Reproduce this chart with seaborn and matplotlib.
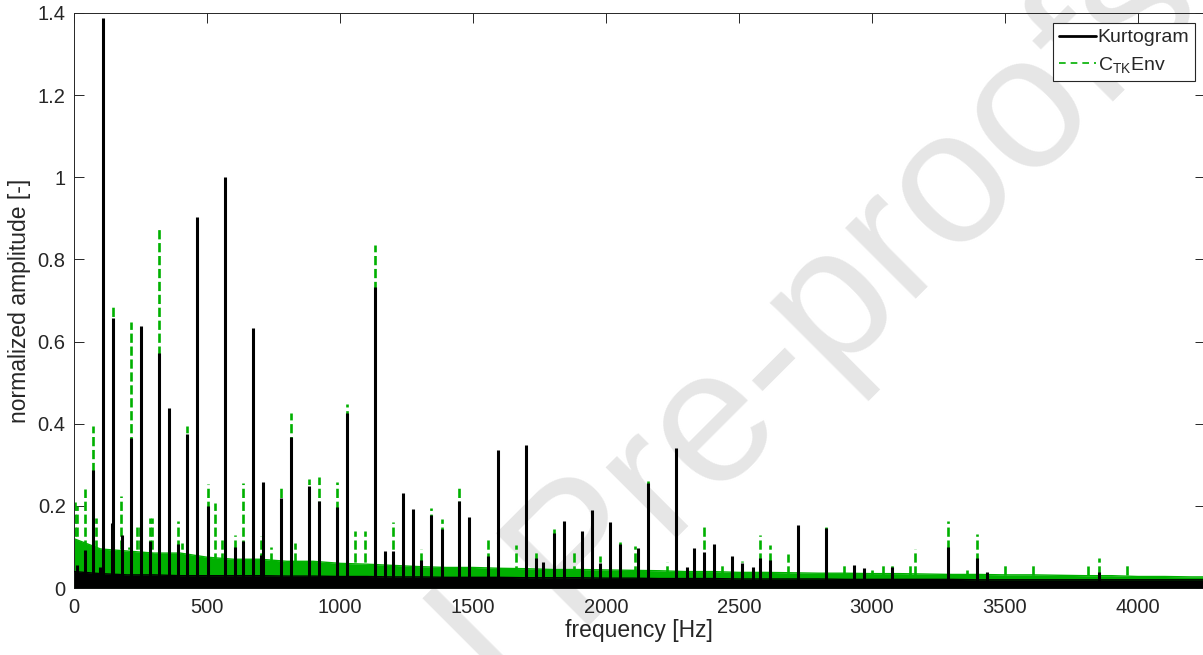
import numpy as np
import pandas as pd
import matplotlib
matplotlib.use("Agg")
import matplotlib.pyplot as plt
from matplotlib.lines import Line2D
import seaborn as sns

# ---------------- data ----------------
kurt_peak_freq = [12, 41, 73, 98, 110, 141, 148, 179, 215, 253, 286, 321, 358, 392, 426, 464,
                  502, 569, 605, 635, 674, 702, 712, 779, 817, 885, 922, 990, 1028, 1133,
                  1170, 1200, 1238, 1276, 1306, 1343, 1382, 1449, 1486, 1555, 1593, 1698,
                  1737, 1764, 1803, 1842, 1908, 1948, 1976, 2015, 2052, 2119, 2158, 2263,
                  2303, 2331, 2368, 2407, 2475, 2512, 2551, 2580, 2617, 2723, 2828, 2933,
                  2971, 3077, 3287, 3393, 3431, 3852]
kurt_peak_amp = [0.056, 0.092, 0.288, 0.05, 1.387, 0.158, 0.657, 0.128, 0.366, 0.638, 0.114,
                 0.573, 0.438, 0.107, 0.376, 0.903, 0.199, 1.0, 0.10, 0.115, 0.632, 0.08,
                 0.258, 0.218, 0.368, 0.249, 0.213, 0.197, 0.427, 0.734, 0.09, 0.09, 0.232,
                 0.192, 0.068, 0.177, 0.143, 0.211, 0.172, 0.077, 0.335, 0.347, 0.073, 0.063,
                 0.133, 0.162, 0.138, 0.19, 0.061, 0.16, 0.107, 0.097, 0.256, 0.342, 0.05,
                 0.098, 0.087, 0.107, 0.078, 0.062, 0.05, 0.073, 0.068, 0.154, 0.145, 0.056,
                 0.049, 0.05, 0.099, 0.074, 0.04, 0.04]

ctk_peak_freq = [5, 12, 43, 73, 83, 148, 177, 205, 215, 235, 248, 286, 292, 321, 392, 405,
                 426, 502, 530, 555, 605, 635, 702, 740, 779, 817, 830, 885, 922, 990, 1028,
                 1055, 1094, 1133, 1200, 1306, 1343, 1382, 1449, 1555, 1660, 1737, 1803,
                 1881, 1976, 2052, 2109, 2158, 2228, 2368, 2435, 2512, 2580, 2617, 2685,
                 2828, 2894, 3001, 3040, 3077, 3143, 3163, 3287, 3356, 3393, 3500, 3604,
                 3813, 3852, 3957]
ctk_peak_amp = [0.21, 0.20, 0.24, 0.394, 0.17, 0.69, 0.225, 0.10, 0.648, 0.15, 0.15, 0.17,
                0.17, 0.878, 0.164, 0.11, 0.394, 0.254, 0.207, 0.12, 0.13, 0.255, 0.127,
                0.10, 0.244, 0.427, 0.11, 0.265, 0.27, 0.258, 0.449, 0.14, 0.14, 0.836,
                0.16, 0.096, 0.195, 0.167, 0.252, 0.12, 0.104, 0.088, 0.143, 0.088, 0.078,
                0.111, 0.102, 0.26, 0.063, 0.149, 0.062, 0.066, 0.128, 0.105, 0.082, 0.151,
                0.061, 0.044, 0.055, 0.06, 0.057, 0.096, 0.164, 0.044, 0.131, 0.055, 0.06,
                0.053, 0.072, 0.059]

floor_freq = [0, 100, 200, 300, 400, 500, 600, 700, 800, 900, 1000, 1100, 1200, 1300, 1400,
              1500, 1600, 1700, 1800, 1900, 2000, 2100, 2200, 2300, 2400, 2500, 2600, 2700,
              2800, 2900, 3000, 3100, 3200, 3300, 3400, 3500, 3600, 3700, 3800, 3900, 4000,
              4100, 4200, 4250]
ctk_floor = [0.12, 0.095, 0.09, 0.085, 0.085, 0.075, 0.07, 0.07, 0.065, 0.065, 0.06, 0.058,
             0.055, 0.052, 0.05, 0.05, 0.048, 0.047, 0.045, 0.045, 0.044, 0.043, 0.042, 0.04,
             0.04, 0.038, 0.038, 0.037, 0.036, 0.036, 0.035, 0.035, 0.034, 0.033, 0.033,
             0.032, 0.032, 0.031, 0.03, 0.03, 0.028, 0.028, 0.027, 0.027]
kurt_floor = [0.04, 0.035, 0.032, 0.032, 0.03, 0.03, 0.03, 0.03, 0.029, 0.029, 0.028, 0.028,
              0.027, 0.027, 0.026, 0.026, 0.026, 0.025, 0.025, 0.025, 0.024, 0.024, 0.023,
              0.023, 0.023, 0.022, 0.022, 0.022, 0.022, 0.021, 0.021, 0.021, 0.021, 0.021,
              0.02, 0.02, 0.02, 0.02, 0.02, 0.02, 0.02, 0.02, 0.02, 0.02]

x_ticks = [0, 500, 1000, 1500, 2000, 2500, 3000, 3500, 4000]
y_ticks = [0, 0.2, 0.4, 0.6, 0.8, 1.0, 1.2, 1.4]
y_tick_labels = ["0", "0.2", "0.4", "0.6", "0.8", "1", "1.2", "1.4"]

# ---------------- style ----------------
sns.set_theme(style="ticks")
plt.rcParams["font.family"] = ["Liberation Sans", "DejaVu Sans"]
plt.rcParams["mathtext.fontset"] = "custom"
plt.rcParams["mathtext.rm"] = "Liberation Sans"
plt.rcParams["mathtext.it"] = "Liberation Sans:italic"

GREEN = "#00b000"
W, H = 1203, 655
fig = plt.figure(figsize=(W / 100, H / 100), dpi=100)
ax = fig.add_axes([74 / W, 1 - 588 / H, 1130.5 / W, 575 / H])
ax.set_facecolor("none")
ax.set_zorder(2)

floor_df = pd.DataFrame({"f": floor_freq, "ctk": ctk_floor, "kurt": kurt_floor})

# CTKEnv (green, dashed) underneath
ax.fill_between(floor_df["f"], 0, floor_df["ctk"], color=GREEN, lw=0, zorder=2)
sns.lineplot(data=floor_df, x="f", y="ctk", ax=ax, color=GREEN, lw=1.0, zorder=2)
ax.vlines(ctk_peak_freq, 0, ctk_peak_amp, colors=GREEN, linestyles=(0, (3.5, 1.4)),
          linewidth=1.9, zorder=2.2)

# Kurtogram (black, solid) on top
ax.fill_between(floor_df["f"], 0, floor_df["kurt"], color="black", lw=0, zorder=3)
sns.lineplot(data=floor_df, x="f", y="kurt", ax=ax, color="black", lw=1.0, zorder=3)
ax.vlines(kurt_peak_freq, 0, kurt_peak_amp, colors="black", linewidth=2.2, zorder=3.2)

ax.set_xlim(0, 4250)
ax.set_ylim(0, 1.4)
ax.set_xticks(x_ticks)
ax.set_xticklabels([str(t) for t in x_ticks])
ax.set_yticks(y_ticks)
ax.set_yticklabels(y_tick_labels)
ax.tick_params(direction="in", length=7.5, width=0.7, colors="#262626",
               labelsize=14.5, top=True, right=True, pad=6)
ax.tick_params(axis="x", pad=7)
for s in ax.spines.values():
    s.set_color("#262626")
    s.set_linewidth(0.7)
ax.set_xlabel("frequency [Hz]", fontsize=16.5, color="#262626", labelpad=2)
ax.set_ylabel("normalized amplitude [-]", fontsize=16.5, color="#262626", labelpad=5)

handles = [Line2D([0], [0], color="black", lw=2.0),
           Line2D([0], [0], color=GREEN, lw=1.2, ls=(0, (4, 3)))]
leg = ax.legend(handles, ["Kurtogram", r"C$_{\rm TK}$Env"], loc="upper right",
                bbox_to_anchor=(1195 / W, 1 - 23 / H), bbox_transform=fig.transFigure,
                fontsize=14, frameon=True, fancybox=False, framealpha=1,
                edgecolor="#262626", borderpad=0.3, handlelength=1.9,
                handletextpad=0.1, labelspacing=0.45, borderaxespad=0)
leg.get_frame().set_linewidth(0.8)
leg.set_zorder(10)

# watermark (behind the axes content)
fig.text(653 / W, 1 - 562 / H, "Journal Pre-proofs", rotation=45, rotation_mode="anchor",
         ha="center", va="baseline", fontsize=137, color="#e6e6e6", zorder=0)

fig.savefig("out.png", dpi=100)
